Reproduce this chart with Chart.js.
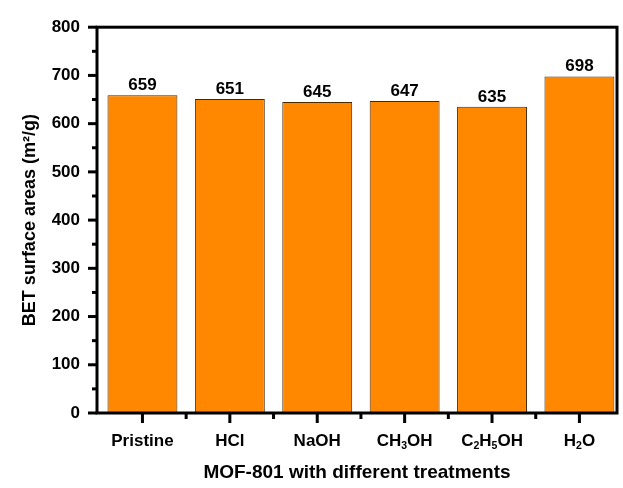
<!DOCTYPE html>
<html>
<head>
<meta charset="utf-8">
<script src="https://cdn.jsdelivr.net/npm/chart.js"></script>
<style>
    body { margin: 0; background: #fff; }
</style>
</head>
<body>
<canvas id="grafico1" width="623" height="488"></canvas>
<script>
    // dados
    const categorias = ["Pristine", "HCl", "NaOH", "CH₃OH", "C₂H₅OH", "H₂O"];
    const valores = [659, 651, 645, 647, 635, 698];
    const marcasY = [0, 100, 200, 300, 400, 500, 600, 700, 800];

    const fonte = '"Liberation Sans", Arial, sans-serif';
    const subs = "₀₁₂₃₄₅₆₇₈₉";

    // texto com subscritos (CH3OH etc.)
    function textoComSub(ctx, texto, cx, baseY, tam) {
        const partes = [...texto].map(ch => {
            const k = subs.indexOf(ch);
            return k >= 0 ? { t: String(k), sub: true } : { t: ch, sub: false };
        });
        let total = 0;
        partes.forEach(p => {
            ctx.font = "bold " + (p.sub ? tam * 0.62 : tam) + "px " + fonte;
            p.w = ctx.measureText(p.t).width;
            total += p.w;
        });
        let px = cx - total / 2;
        ctx.textAlign = "left";
        ctx.textBaseline = "alphabetic";
        partes.forEach(p => {
            ctx.font = "bold " + (p.sub ? tam * 0.62 : tam) + "px " + fonte;
            ctx.fillText(p.t, px, p.sub ? baseY + 3 : baseY);
            px += p.w;
        });
    }

    function linha(ctx, x1, y1, x2, y2) {
        ctx.beginPath();
        ctx.moveTo(x1, y1);
        ctx.lineTo(x2, y2);
        ctx.stroke();
    }

    const desenhoExtra = {
        id: "desenhoExtra",
        afterDraw(chart) {
            const { ctx, chartArea: a, scales: { x, y } } = chart;
            ctx.save();

            // valores acima das barras
            ctx.fillStyle = "#000";
            ctx.font = "bold 17px " + fonte;
            ctx.textAlign = "center";
            ctx.textBaseline = "alphabetic";
            chart.getDatasetMeta(0).data.forEach((barra, i) => {
                ctx.fillText(String(valores[i]), barra.x, barra.y - 5);
            });

            // moldura
            ctx.strokeStyle = "#000";
            ctx.lineWidth = 3;
            ctx.strokeRect(a.left, a.top, a.right - a.left, a.bottom - a.top);

            // marcas do eixo y (maiores e menores)
            for (let i = 0; i < marcasY.length; i++) {
                const py = y.getPixelForValue(marcasY[i]);
                linha(ctx, a.left - 9, py, a.left, py);
                if (i < marcasY.length - 1) {
                    const pm = y.getPixelForValue((marcasY[i] + marcasY[i + 1]) / 2);
                    linha(ctx, a.left - 5, pm, a.left, pm);
                }
            }

            // marcas do eixo x
            const base = a.bottom;
            for (let i = 0; i < categorias.length; i++) {
                const px = x.getPixelForValue(i);
                linha(ctx, px, base, px, base + 10);
                if (i < categorias.length - 1) {
                    const pm = x.getPixelForValue(i + 0.5);
                    linha(ctx, pm, base, pm, base + 6);
                }
            }

            // rótulos do eixo x
            ctx.fillStyle = "#000";
            categorias.forEach((c, i) => {
                textoComSub(ctx, c, x.getPixelForValue(i), 446, 17);
            });

            ctx.restore();
        }
    };

    const ctx = document.getElementById("grafico1").getContext("2d");

    new Chart(ctx, {
        type: "bar",
        data: {
            datasets: [{
                data: categorias.map((c, i) => ({ x: i, y: valores[i] })),
                backgroundColor: "#ff8800",
                borderColor: "#4a2800",
                borderWidth: 1,
                barPercentage: 0.8,
                categoryPercentage: 1
            }]
        },
        options: {
            responsive: false,
            animation: false,
            layout: { padding: { top: 22, right: 6, left: 0, bottom: 0 } },
            plugins: {
                legend: { display: false },
                tooltip: { enabled: false }
            },
            scales: {
                x: {
                    type: "linear",
                    offset: false,
                    min: -0.52,
                    max: 5.43,
                    grid: { display: false, drawTicks: false },
                    border: { display: false },
                    ticks: { display: false },
                    title: {
                        display: true,
                        text: "MOF-801 with different treatments",
                        color: "#000",
                        font: { size: 19, weight: "bold", family: fonte },
                        padding: { top: 0, bottom: 4 }
                    },
                    afterFit: (s) => { s.height = 75; }
                },
                y: {
                    min: 0,
                    max: 800,
                    afterBuildTicks: (s) => { s.ticks = marcasY.map(v => ({ value: v })); },
                    grid: { display: false, drawTicks: false },
                    border: { display: false },
                    ticks: {
                        color: "#000",
                        padding: 17,
                        font: { size: 17, weight: "bold", family: fonte }
                    },
                    title: {
                        display: true,
                        text: "BET surface areas (m²/g)",
                        color: "#000",
                        font: { size: 18, weight: "bold", family: fonte },
                        padding: { top: 19, bottom: 0 }
                    },
                    afterFit: (s) => { s.width = 97; }
                }
            }
        },
        plugins: [desenhoExtra]
    });
</script>
</body>
</html>
